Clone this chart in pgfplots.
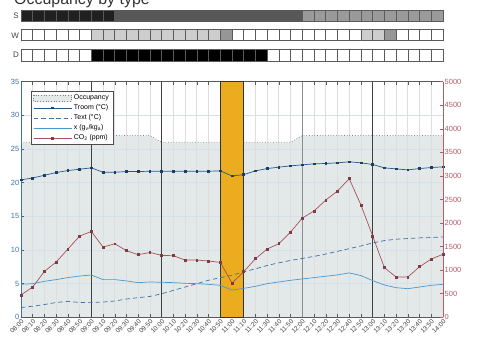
\documentclass[border=0pt]{standalone}
\usepackage{pgfplots}
\pgfplotsset{compat=1.18}
\usepackage{fontspec}
\setmainfont{Liberation Sans}
\definecolor{occfill}{RGB}{227,233,233}
\definecolor{troom}{RGB}{38,88,140}
\definecolor{textc}{RGB}{64,112,165}
\definecolor{xcol}{RGB}{72,152,212}
\definecolor{co2}{RGB}{170,80,90}
\definecolor{lblue}{RGB}{62,112,170}
\definecolor{lred}{RGB}{178,92,102}
\definecolor{orng}{RGB}{236,172,32}
\definecolor{sdark}{RGB}{32,32,32}
\definecolor{smid}{RGB}{88,88,88}
\definecolor{slight}{RGB}{154,154,154}
\definecolor{wlight}{RGB}{205,205,205}
\definecolor{wmid}{RGB}{150,150,150}
\definecolor{cellb}{RGB}{90,90,90}
\begin{document}
\begin{tikzpicture}[x=1bp,y=1bp]
\node[overlay, anchor=base west, font=\fontsize{16}{18}\selectfont, text=black!80, inner sep=0] at (14,334) {Occupancy by type};
\node[anchor=east, font=\fontsize{8}{9}\selectfont, text=black!75, inner sep=1bp] at (20,321.8) {S};
\node[anchor=east, font=\fontsize{8}{9}\selectfont, text=black!75, inner sep=1bp] at (20,302.6) {W};
\node[anchor=east, font=\fontsize{8}{9}\selectfont, text=black!75, inner sep=1bp] at (20,282.8) {D};

% ---- heatmap rows
\pgfplotsset{cellrow/.style={width=422bp, height=11.2bp, scale only axis, anchor=south west,
  xmin=0, xmax=36, ymin=0, ymax=1, hide axis, clip=false},
  cell/.style={ybar, bar width=1, bar shift=0pt, draw=cellb, line width=0.6bp, fill=#1}}
\begin{axis}[cellrow, at={(21bp,316.4bp)}]
\addplot[cell=sdark] coordinates {(0.5,1)(1.5,1)(2.5,1)(3.5,1)(4.5,1)(5.5,1)(6.5,1)(7.5,1)};
\addplot[cell=smid] coordinates {(8.5,1)(9.5,1)(10.5,1)(11.5,1)(12.5,1)(13.5,1)(14.5,1)(15.5,1)(16.5,1)(17.5,1)(18.5,1)(19.5,1)(20.5,1)(21.5,1)(22.5,1)(23.5,1)};
\addplot[cell=slight] coordinates {(24.5,1)(25.5,1)(26.5,1)(27.5,1)(28.5,1)(29.5,1)(30.5,1)(31.5,1)(32.5,1)(33.5,1)(34.5,1)(35.5,1)};
\end{axis}
\begin{axis}[cellrow, at={(21bp,297.2bp)}]
\addplot[cell=white] coordinates {(0.5,1)(1.5,1)(2.5,1)(3.5,1)(4.5,1)(5.5,1)(18.5,1)(19.5,1)(20.5,1)(21.5,1)(22.5,1)(23.5,1)(24.5,1)(25.5,1)(26.5,1)(27.5,1)(28.5,1)(32.5,1)(33.5,1)(34.5,1)(35.5,1)};
\addplot[cell=wlight] coordinates {(6.5,1)(7.5,1)(8.5,1)(9.5,1)(10.5,1)(11.5,1)(12.5,1)(13.5,1)(14.5,1)(15.5,1)(16.5,1)(29.5,1)(30.5,1)};
\addplot[cell=wmid] coordinates {(17.5,1)(31.5,1)};
\end{axis}
\begin{axis}[cellrow, at={(21bp,277.0bp)}, height=11.8bp]
\addplot[cell=white] coordinates {(0.5,1)(1.5,1)(2.5,1)(3.5,1)(4.5,1)(5.5,1)(21.5,1)(22.5,1)(23.5,1)(24.5,1)(25.5,1)(26.5,1)(27.5,1)(28.5,1)(29.5,1)(30.5,1)(31.5,1)(32.5,1)(33.5,1)(34.5,1)(35.5,1)};
\addplot[cell=black] coordinates {(6.5,1)(7.5,1)(8.5,1)(9.5,1)(10.5,1)(11.5,1)(12.5,1)(13.5,1)(14.5,1)(15.5,1)(16.5,1)(17.5,1)(18.5,1)(19.5,1)(20.5,1)};
\end{axis}

% ---- main chart, left axis
\begin{axis}[
  at={(21bp,20.7bp)}, anchor=south west, width=422bp, height=235.6bp, scale only axis,
  xmin=0, xmax=36, ymin=0, ymax=35,
  xtick={0,...,36},
  xticklabels={08:00,08:10,08:20,08:30,08:40,08:50,09:00,09:10,09:20,09:30,09:40,09:50,10:00,10:10,10:20,10:30,10:40,10:50,11:00,11:10,11:20,11:30,11:40,11:50,12:00,12:10,12:20,12:30,12:40,12:50,13:00,13:10,13:20,13:30,13:40,13:50,14:00},
  ytick={0,5,...,35},
  ytick pos=left, xtick pos=both,
  tick align=inside, major tick length=3bp,
  tick style={black!65, line width=0.5bp},
  set layers, separate axis lines,
  x axis line style={draw=black!65, line width=0.6bp},
  y axis line style={draw=lblue, line width=0.6bp},
  xmajorgrids, ymajorgrids,
  x grid style={black!13, line width=0.8bp},
  y grid style={lblue!22, line width=0.6bp},
  x tick label style={rotate=45, anchor=north east, font=\fontsize{6.5}{7}\selectfont, text=black!75, inner sep=1bp},
  y tick label style={font=\fontsize{7.5}{8}\selectfont, text=lblue, inner sep=1.5bp},
  /pgf/number format/assume math mode=true,
]
\addplot[on layer=axis background, fill=occfill, draw=none, forget plot] coordinates {
(0,26)(1,26)(2,26)(3,26)(4,26)(5,26)(6,27)(7,27)(8,27)(9,27)(10,27)(11,27)(12,26)(13,26)(14,26)(15,26)(16,26)(17,26)(18,26)(19,26)(20,26)(21,26)(22,26)(23,26)(24,27)(25,27)(26,27)(27,27)(28,27)(29,27)(30,27)(31,27)(32,27)(33,27)(34,27)(35,27)(36,27)} \closedcycle;
\addplot[black!50, dotted, line width=0.7bp, forget plot] coordinates {
(0,26)(1,26)(2,26)(3,26)(4,26)(5,26)(6,27)(7,27)(8,27)(9,27)(10,27)(11,27)(12,26)(13,26)(14,26)(15,26)(16,26)(17,26)(18,26)(19,26)(20,26)(21,26)(22,26)(23,26)(24,27)(25,27)(26,27)(27,27)(28,27)(29,27)(30,27)(31,27)(32,27)(33,27)(34,27)(35,27)(36,27)};
\addplot[fill=orng, draw=black!80, line width=0.7bp, forget plot] coordinates {(17,0)(17,35)(19,35)(19,0)} \closedcycle;
\addplot[black!75, line width=0.8bp, forget plot] coordinates {(6,0)(6,35)};
\addplot[black!75, line width=0.8bp, forget plot] coordinates {(12,0)(12,35)};
\addplot[black!45, line width=1.2bp, forget plot] coordinates {(24,0)(24,35)};
\addplot[black!75, line width=0.8bp, forget plot] coordinates {(30,0)(30,35)};
% Troom
\addplot[troom, line width=0.7bp, mark=square*, mark size=0.9bp, mark options={solid, fill=troom!70!black, draw=troom!70!black}] coordinates {
(0,20.42)(1,20.7)(2,21.1)(3,21.5)(4,21.8)(5,22.0)(6,22.2)(7,21.55)(8,21.55)(9,21.65)(10,21.65)(11,21.7)(12,21.7)(13,21.7)(14,21.7)(15,21.7)(16,21.7)(17,21.75)(18,21.0)(19,21.2)(20,21.75)(21,22.1)(22,22.3)(23,22.5)(24,22.65)(25,22.8)(26,22.85)(27,22.95)(28,23.1)(29,22.95)(30,22.7)(31,22.2)(32,22.05)(33,21.9)(34,22.1)(35,22.25)(36,22.35)};
% Text
\addplot[textc, line width=0.7bp, dash pattern=on 4.5bp off 3bp] coordinates {
(0,1.45)(1,1.65)(2,1.9)(3,2.2)(4,2.37)(5,2.2)(6,2.22)(7,2.27)(8,2.42)(9,2.72)(10,2.92)(11,3.1)(12,3.5)(13,4.0)(14,4.5)(15,5.0)(16,5.5)(17,5.9)(18,6.25)(19,6.75)(20,7.2)(21,7.7)(22,8.1)(23,8.45)(24,8.75)(25,9.05)(26,9.4)(27,9.8)(28,10.2)(29,10.6)(30,11.05)(31,11.4)(32,11.6)(33,11.7)(34,11.8)(35,11.85)(36,11.95)};
% x
\addplot[xcol, line width=0.7bp] coordinates {
(0,4.9)(1,5.0)(2,5.35)(3,5.6)(4,5.9)(5,6.13)(6,6.28)(7,5.6)(8,5.6)(9,5.4)(10,5.15)(11,5.25)(12,5.2)(13,5.15)(14,5.05)(15,5.0)(16,4.9)(17,4.75)(18,4.05)(19,4.3)(20,4.6)(21,5.0)(22,5.25)(23,5.5)(24,5.7)(25,5.9)(26,6.1)(27,6.3)(28,6.6)(29,6.2)(30,5.45)(31,4.8)(32,4.4)(33,4.25)(34,4.5)(35,4.75)(36,4.9)};
\end{axis}

% ---- right axis (CO2)
\begin{axis}[
  at={(21bp,20.7bp)}, anchor=south west, width=422bp, height=235.6bp, scale only axis,
  xmin=0, xmax=36, ymin=0, ymax=5000,
  axis x line=none, axis y line*=right,
  ytick={0,500,...,5000},
  tick align=inside, major tick length=3bp,
  tick style={lred, line width=0.5bp},
  y axis line style={draw=lred, line width=0.6bp},
  y tick label style={font=\fontsize{7.5}{8}\selectfont, text=lred, inner sep=1.5bp},
  /pgf/number format/1000 sep={},
  /pgf/number format/assume math mode=true,
  legend image code/.code={\draw[mark repeat=2,mark phase=2,#1] plot coordinates {(0bp,0bp)(19bp,0bp)(38bp,0bp)};},
  legend style={at={(0.0237,0.9605)}, anchor=north west, font=\fontsize{7}{8}\selectfont,
    draw=black!70, line width=0.5bp, fill=white, inner xsep=2bp, inner ysep=1.5bp, row sep=-0.5bp},
  legend cell align=left,
]
\addlegendimage{legend image code/.code={\fill[occfill] (0bp,-3bp) rectangle (38bp,3bp); \draw[black!50,dotted,line width=0.7bp] (0bp,-3bp) rectangle (38bp,3bp);}}
\addlegendentry{Occupancy}
\addlegendimage{troom, line width=0.7bp, mark=square*, mark size=0.9bp, mark options={fill=troom!70!black, draw=troom!70!black}}
\addlegendentry{Troom (°C)}
\addlegendimage{textc, line width=0.7bp, dash pattern=on 4.5bp off 3bp}
\addlegendentry{Text (°C)}
\addlegendimage{xcol, line width=0.7bp}
\addlegendentry{x (g\textsubscript{v}/kg\textsubscript{a})}
\addplot[co2, line width=0.7bp, mark=square*, mark size=0.9bp, mark options={fill=co2!75!black, draw=co2!75!black}] coordinates {
(0,473)(1,643)(2,975)(3,1173)(4,1448)(5,1723)(6,1822)(7,1490)(8,1561)(9,1413)(10,1328)(11,1377)(12,1314)(13,1307)(14,1215)(15,1215)(16,1194)(17,1166)(18,727)(19,968)(20,1244)(21,1449)(22,1562)(23,1810)(24,2107)(25,2256)(26,2489)(27,2680)(28,2941)(29,2383)(30,1725)(31,1053)(32,855)(33,855)(34,1074)(35,1237)(36,1337)};
\addlegendentry{CO\textsubscript{2} (ppm)}
\end{axis}
\path (0,0) rectangle (494,338);
\end{tikzpicture}
\end{document}
